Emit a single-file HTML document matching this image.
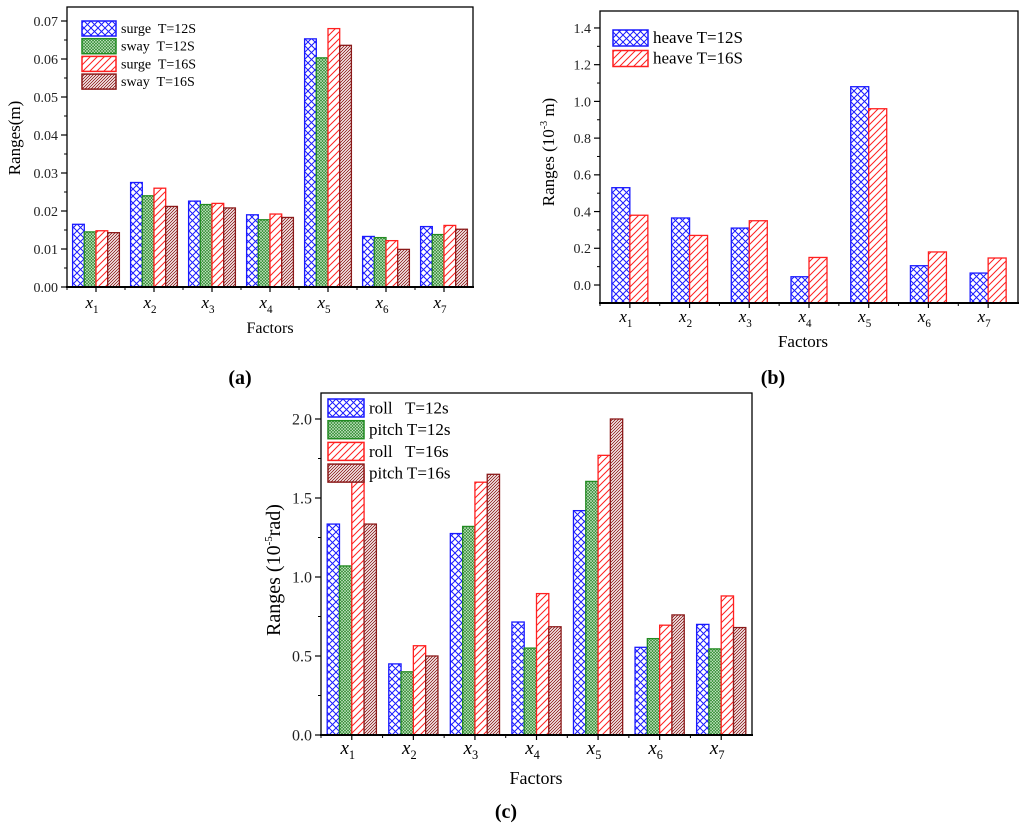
<!DOCTYPE html>
<html><head><meta charset="utf-8"><style>
body{margin:0;background:#fff;}
svg{display:block;font-family:"Liberation Serif",serif;}
text{white-space:pre;}
</style></head><body>
<svg id="fig" width="1024" height="831" viewBox="0 0 1024 831">
<defs>
<pattern id="pBlue" width="7" height="7" patternUnits="userSpaceOnUse"><rect width="7" height="7" fill="#fff"/><path d="M0,0L7,7M7,0L0,7" stroke="#1a1aff" stroke-width="1"/></pattern>
<pattern id="pGreen" width="3" height="3" patternUnits="userSpaceOnUse"><rect width="3" height="3" fill="#2e8b2e"/><path d="M0,0L3,3M3,0L0,3" stroke="#cfe8cf" stroke-width="0.6"/></pattern>
<pattern id="pRed" width="7" height="7" patternUnits="userSpaceOnUse"><rect width="7" height="7" fill="#fff"/><path d="M-1,8L8,-1M-1,1L1,-1M6,8L8,6" stroke="#ff2020" stroke-width="1"/></pattern>
<pattern id="pBrown" width="3" height="3" patternUnits="userSpaceOnUse"><rect width="3" height="3" fill="#fff"/><path d="M-1,4L4,-1M-1,1L1,-1M2,4L4,2" stroke="#8b1a1a" stroke-width="0.9"/></pattern>
</defs>
<g id="ga"></g>
<g id="gb"></g>
<g id="gc"></g>
<text x="240" y="384" font-size="20" font-weight="bold" text-anchor="middle">(a)</text>
<text x="773" y="384" font-size="20" font-weight="bold" text-anchor="middle">(b)</text>
<text x="506" y="818" font-size="20" font-weight="bold" text-anchor="middle">(c)</text>
</svg>
<script>
const categories=["1","2","3","4","5","6","7"];
// chart a
const aSurge12=[0.0165,0.0275,0.0226,0.019,0.0653,0.0133,0.0159];
const aSway12=[0.0145,0.024,0.0217,0.0177,0.0603,0.013,0.0138];
const aSurge16=[0.0148,0.026,0.022,0.0192,0.068,0.0122,0.0162];
const aSway16=[0.0143,0.0212,0.0208,0.0183,0.0636,0.0099,0.0152];
const aTicks=["0.00","0.01","0.02","0.03","0.04","0.05","0.06","0.07"];
const aLegend=["surge  T=12S","sway  T=12S","surge  T=16S","sway  T=16S"];
// chart b
const bHeave12=[0.53,0.365,0.31,0.045,1.08,0.105,0.065];
const bHeave16=[0.38,0.27,0.35,0.15,0.96,0.18,0.147];
const bTicks=["0.0","0.2","0.4","0.6","0.8","1.0","1.2","1.4"];
const bLegend=["heave T=12S","heave T=16S"];
// chart c
const cRoll12=[1.335,0.45,1.275,0.715,1.42,0.555,0.7];
const cPitch12=[1.07,0.40,1.32,0.55,1.605,0.61,0.545];
const cRoll16=[1.68,0.565,1.6,0.895,1.77,0.695,0.88];
const cPitch16=[1.335,0.50,1.65,0.685,2.0,0.76,0.68];
const cTicks=["0.0","0.5","1.0","1.5","2.0"];
const cLegend=["roll   T=12s","pitch T=12s","roll   T=16s","pitch T=16s"];

const NS="http://www.w3.org/2000/svg";
function mk(p,tag,at){const e=document.createElementNS(NS,tag);for(const k in at)e.setAttribute(k,at[k]);p.appendChild(e);return e;}
const pats=["url(#pBlue)","url(#pGreen)","url(#pRed)","url(#pBrown)"];
const strokes=["#1a1aff","#228b22","#ff2020","#8b1a1a"];

function chart(g,o){
  const y=v=>o.bottomY0-(v-o.base)*o.ppu;
  const gw=(o.right-o.left)/categories.length;
  categories.forEach((c,i)=>{
    const n=o.series.length;const bw=o.bw;const start=o.left+i*gw+(gw-n*bw)/2;
    o.series.forEach((s,j)=>{
      const top=y(s[i]);
      const r=mk(g,"rect",{x:start+j*bw,y:top,width:bw,height:o.bottom-top,fill:pats[o.pi[j]],stroke:strokes[o.pi[j]],"stroke-width":1.3});
      
      
    });
    const cx=o.left+i*gw+gw/2;
    mk(g,"line",{x1:cx,y1:o.bottom,x2:cx,y2:o.bottom+5,stroke:"#000","stroke-width":1.2});
    mk(g,"line",{x1:o.left+i*gw,y1:o.bottom,x2:o.left+i*gw,y2:o.bottom+3,stroke:"#000","stroke-width":1});
    const t=mk(g,"text",{x:cx-4,y:o.xly,"font-size":o.xfs,"font-style":"italic","text-anchor":"middle"});
    
    
    t.innerHTML='x<tspan font-style="normal" font-size="'+(o.xfs*0.65)+'" dy="5">'+c+'</tspan>';
  });
  const fr=mk(g,"rect",{x:o.left,y:o.top,width:o.right-o.left,height:o.bottom-o.top,fill:"none",stroke:"#000","stroke-width":1.3});
  
  
  mk(g,"line",{x1:o.left-1,y1:o.bottom,x2:o.right+1,y2:o.bottom,stroke:"#000","stroke-width":2});
  o.ticks.forEach(tl=>{
    const v=parseFloat(tl);const yy=y(v);
    mk(g,"line",{x1:o.left-6,y1:yy,x2:o.left,y2:yy,stroke:"#000","stroke-width":1.2});
    const ym=y(v+o.minor);
    if(ym>o.top) mk(g,"line",{x1:o.left-3,y1:ym,x2:o.left,y2:ym,stroke:"#000","stroke-width":1});
    const t=mk(g,"text",{x:o.left-9,y:yy+o.yfs*0.35,"font-size":o.yfs,"text-anchor":"end",fill:"#222"});
    
    
    t.textContent=tl;
  });
  o.legend.forEach((l,j)=>{
    const ly=o.lgY+j*o.lgDy;
    const r=mk(g,"rect",{x:o.lgX,y:ly,width:o.lgW,height:o.lgH,fill:pats[o.pi[j]],stroke:strokes[o.pi[j]],"stroke-width":1.5});
    
    
    const t=mk(g,"text",{x:o.lgX+o.lgW+5,y:ly+o.lgH*0.8,"font-size":o.lfs});
    
    
    t.textContent=l;
  });
  const yl=mk(g,"text",{x:0,y:0,"font-size":o.ylfs,"text-anchor":"middle",transform:"translate("+o.ylx+","+o.yly+") rotate(-90)"});
  
  
  yl.innerHTML=o.ylab;
  const xl=mk(g,"text",{x:o.fx,y:o.fy,"font-size":o.ffs,"text-anchor":"middle"});
  
  
  xl.textContent="Factors";
}
chart(document.getElementById("ga"),{key:"a",series:[aSurge12,aSway12,aSurge16,aSway16],pi:[0,1,2,3],
  left:67,right:473,top:7,bottom:287,bottomY0:287,base:0,ppu:266/0.07,bw:11.7,minor:0.005,ticks:aTicks,yfs:14,
  xly:308,xfs:17,legend:aLegend,lgX:82,lgY:21,lgDy:17.7,lgW:34,lgH:15,lfs:14,
  ylab:"Ranges(m)",ylx:20,yly:138,ylfs:17,fx:270,fy:333,ffs:16});
chart(document.getElementById("gb"),{key:"b",series:[bHeave12,bHeave16],pi:[0,2],
  left:600,right:1018,top:11,bottom:303,bottomY0:285,base:0,ppu:183.6,bw:18,minor:0.1,ticks:bTicks,yfs:14,
  xly:322,xfs:17,legend:bLegend,lgX:613,lgY:30,lgDy:20.5,lgW:35,lgH:16,lfs:17,
  ylab:'Ranges (10<tspan font-size="10" dy="-7">-3</tspan><tspan dy="7"> m)</tspan>',ylx:554,yly:152,ylfs:17,fx:803,fy:347,ffs:17});
chart(document.getElementById("gc"),{key:"c",series:[cRoll12,cPitch12,cRoll16,cPitch16],pi:[0,1,2,3],
  left:321,right:752,top:393,bottom:735,bottomY0:735,base:0,ppu:158,bw:12.3,minor:0.25,ticks:cTicks,yfs:16,
  xly:754,xfs:19,legend:cLegend,lgX:328,lgY:399,lgDy:21.7,lgW:36,lgH:18,lfs:17,
  ylab:'Ranges (10<tspan font-size="11" dy="-8">-5</tspan><tspan dy="8">rad)</tspan>',ylx:280,yly:570,ylfs:20,fx:536,fy:784,ffs:18});
</script>
</body></html>
